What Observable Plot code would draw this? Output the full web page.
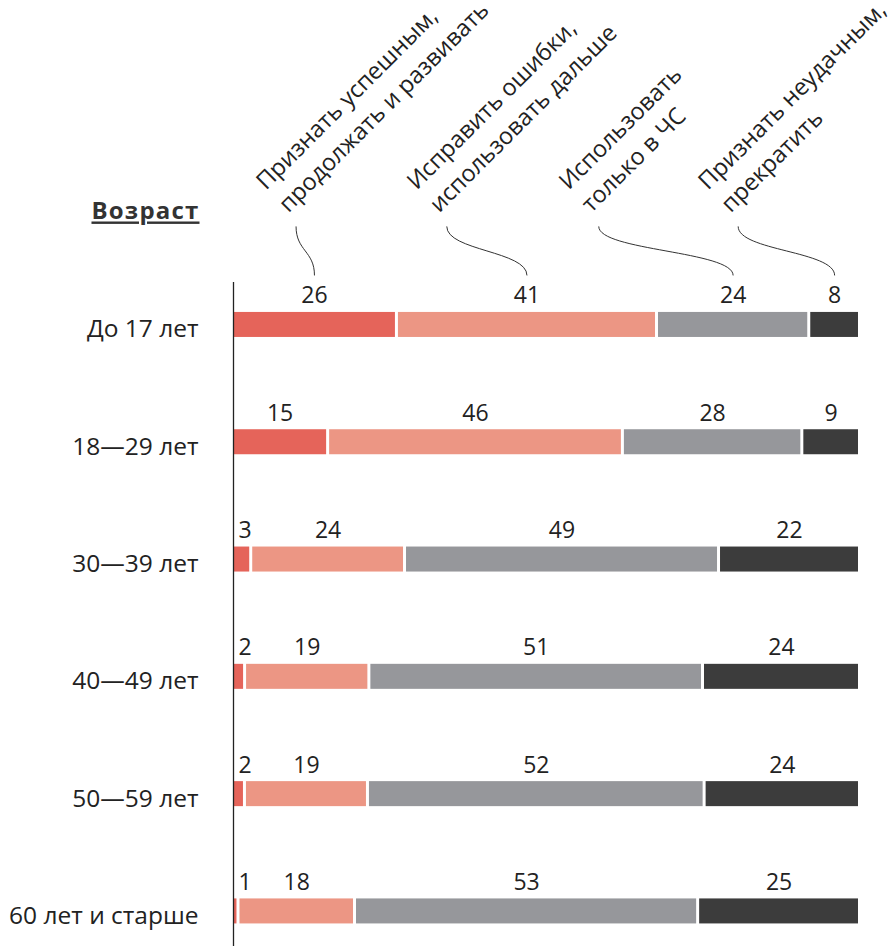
<!DOCTYPE html>
<html>
<head>
<meta charset="utf-8">
<script src="https://cdn.jsdelivr.net/npm/d3@7"></script>
<script src="https://cdn.jsdelivr.net/npm/@observablehq/plot@0.6"></script>
<style>
  html, body { margin: 0; padding: 0; background: #fff; }
  g[aria-description="age-header"] text { text-decoration: underline; text-decoration-thickness: 2px; letter-spacing: 1.2px; }
</style>
</head>
<body>
<div id="chart"></div>
<script>
// ---- Data ----
const ages = ["До 17 лет", "18—29 лет", "30—39 лет", "40—49 лет", "50—59 лет", "60 лет и старше"];
const answers = [
  "Признать успешным,\nпродолжать и развивать",
  "Исправить ошибки,\nиспользовать дальше",
  "Использовать\nтолько в ЧС",
  "Признать неудачным,\nпрекратить"
];
const successful    = [26, 15, 3, 2, 2, 1];
const fixErrors     = [41, 46, 24, 19, 19, 18];
const emergencyOnly = [24, 28, 49, 51, 52, 53];
const failed        = [8, 9, 22, 24, 24, 25];
const ageTitle = "Возраст";

// ---- Styling / layout ----
const colors = ["#e5645a", "#ec9684", "#96979b", "#3c3c3c"];
const series = [successful, fixErrors, emergencyOnly, failed];
const barHalf = 0.1066;          // half bar thickness in row units
const leaderTopX = [10.2, 34.2, 58.4, 80.6]; // % positions of header anchors
const leaderTopY = -0.84, leaderBottomY = -0.422;
const smallShare = 4;            // segments narrower than this get a left-aligned label

// Build stacked, normalized table
const table = [];
ages.forEach((age, i) => {
  const total = d3.sum(series, s => s[i]);
  let acc = 0;
  series.forEach((s, k) => {
    const v = s[i];
    const x1 = acc / total * 100;
    acc += v;
    const x2 = acc / total * 100;
    table.push({age, i, k, value: v, x1, x2, mid: (x1 + x2) / 2});
  });
});
const rowLabels = ages.map((age, i) => ({age, i}));
const headers = answers.map((a, k) => ({
  label: a, k,
  topX: leaderTopX[k],
  bottomX: table.find(d => d.i === 0 && d.k === k).mid
}));
const wide = table.filter(d => d.x2 - d.x1 >= smallShare);
const narrow = table.filter(d => d.x2 - d.x1 < smallShare);

const plot = Plot.plot({
  width: 889,
  height: 946,
  marginLeft: 233,
  marginRight: 28,
  marginTop: 0,
  marginBottom: 0,
  style: {fontFamily: "'Open Sans', sans-serif", fontSize: "24px", color: "#222", background: "#fff"},
  x: {domain: [0, 100], axis: null},
  y: {domain: [-2.766, 5.299], reverse: true, axis: null},
  color: {domain: [0, 1, 2, 3], range: colors},
  marks: [
    Plot.rect(table, {
      x1: "x1", x2: "x2",
      y1: d => d.i - barHalf, y2: d => d.i + barHalf,
      fill: "k", insetRight: 3
    }),
    Plot.text(wide, {
      x: "mid", y: d => d.i - barHalf, text: d => String(d.value),
      dx: -1.5, dy: -9, lineAnchor: "bottom", textAnchor: "middle",
      fill: "#222", fontSize: 23
    }),
    Plot.text(narrow, {
      x: "x1", y: d => d.i - barHalf, text: d => String(d.value),
      dx: 5, dy: -9, lineAnchor: "bottom", textAnchor: "start",
      fill: "#222", fontSize: 23
    }),
    Plot.ruleX([0], {y1: -0.362, y2: 5.299, stroke: "#222", strokeWidth: 1.3}),
    Plot.text(rowLabels, {
      x: 0, y: d => d.i + barHalf, text: "age",
      dx: -35, lineAnchor: "bottom", textAnchor: "end", fill: "#222", fontSize: 24.5
    }),
    Plot.link(headers, {
      x1: "topX", y1: leaderTopY, x2: "bottomX", y2: leaderBottomY,
      dx: -1.5, curve: "bump-y", stroke: "#333", strokeWidth: 1
    }),
    Plot.text(headers, {
      x: "topX", y: leaderTopY, text: "label",
      dx: -9, dy: -13, rotate: -45, textAnchor: "start", lineAnchor: "bottom",
      lineHeight: 1.36, fill: "#222", fontSize: 23.5
    }),
    Plot.text([ageTitle], {
      x: 0, y: -0.899, text: d => d, dx: -34, textAnchor: "end", lineAnchor: "bottom",
      fontWeight: "bold", fontSize: 24, fill: "#333", ariaDescription: "age-header"
    })
  ]
});
document.getElementById("chart").append(plot);
</script>
</body>
</html>
